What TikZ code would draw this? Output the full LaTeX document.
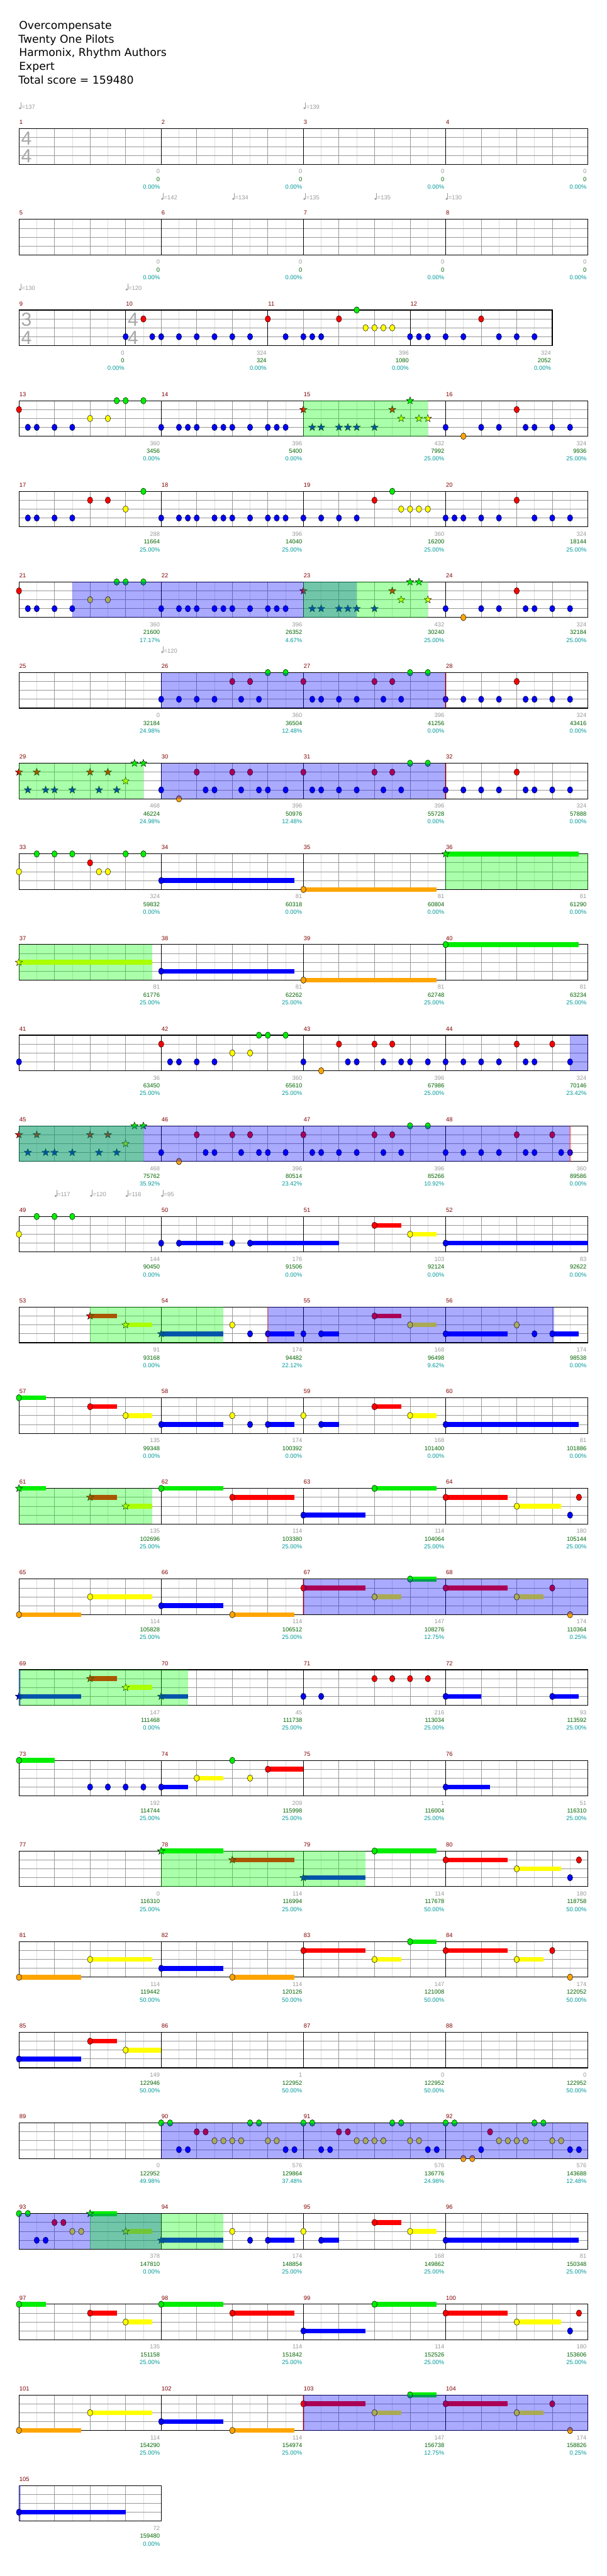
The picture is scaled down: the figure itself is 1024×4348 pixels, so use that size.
\documentclass[tikz,border=0pt]{standalone}
\usepackage{fontspec}
\setmainfont{DejaVu Sans}
\newfontfamily\labfont{Liberation Sans}
\definecolor{cG}{HTML}{00EE00}
\definecolor{cR}{HTML}{FF0000}
\definecolor{cY}{HTML}{FFFF00}
\definecolor{cB}{HTML}{0000FF}
\definecolor{cO}{HTML}{FFA500}
\definecolor{mnum}{HTML}{800000}
\definecolor{gnum}{HTML}{999999}
\definecolor{snum}{HTML}{006400}
\definecolor{pnum}{HTML}{009999}
\definecolor{halfc}{HTML}{DDDDDD}
\definecolor{beatc}{HTML}{999999}
\definecolor{tsg}{HTML}{A8A8A8}
\definecolor{odc}{HTML}{0000FF}
\definecolor{spc}{HTML}{00FF00}
\tikzset{lb/.style={font=\labfont\fontsize{10}{12}\selectfont,inner sep=0pt}}
\newcommand\setm[1]{%
  \pgfmathtruncatemacro\mR{(#1-1)/4}%
  \pgfmathtruncatemacro\mC{#1-1-4*\mR}%
  \pgfmathsetmacro\mX{32+240*\mC}%
  \ifnum#1=9 \def\mX{32}\fi
  \ifnum#1=10 \def\mX{212}\fi
  \ifnum#1=11 \def\mX{452}\fi
  \ifnum#1=12 \def\mX{692}\fi
  \pgfmathsetmacro\mY{217.3+153*\mR}}
\newcommand\nt[4]{\setm{#1}%
  \pgfmathsetmacro\px{\mX+60*(#2)}\pgfmathsetmacro\py{\mY+15*(#3)}%
  \filldraw[fill=#4,draw=black,line width=0.5pt] (\px,\py) ellipse [x radius=4.5pt,y radius=5.5pt];}
\newcommand\nts[4]{\foreach \b in {#4}{\nt{#1}{\b}{#2}{#3}}}
\newcommand\str[4]{\setm{#1}%
  \pgfmathsetmacro\px{\mX+60*(#2)}\pgfmathsetmacro\py{\mY+15*(#3)}%
  \filldraw[fill=#4,draw=black,line width=0.5pt] (\px,\py) +(270:6.5) -- +(306:2.7) -- +(342:6.5) -- +(18:2.7) -- +(54:6.5) -- +(90:2.7) -- +(126:6.5) -- +(162:2.7) -- +(198:6.5) -- +(234:2.7) -- cycle;}
\newcommand\sts[4]{\foreach \b in {#4}{\str{#1}{\b}{#2}{#3}}}
\newcommand\sus[5]{\setm{#1}%
  \pgfmathsetmacro\px{\mX+60*(#2)}\pgfmathsetmacro\py{\mY+15*(#3)}\pgfmathsetmacro\pe{\px+60*(#4)}%
  \fill[#5] (\px,\py-4) rectangle (\pe,\py+4);}
% sustained note / sustained star: m beat lane len colour
\newcommand\snt[5]{\sus{#1}{#2}{#3}{#4}{#5}\nt{#1}{#2}{#3}{#5}}
\newcommand\sst[5]{\sus{#1}{#2}{#3}{#4}{#5}\str{#1}{#2}{#3}{#5}}
\newcommand\reg[5]{%
  \setm{#3}\pgfmathsetmacro\xb{\mX+60*(#4)}%
  \setm{#1}\pgfmathsetmacro\xa{\mX+60*(#2)}%
  \fill[#5,opacity=0.333] (\xa,\mY) rectangle (\xb,\mY+60);}
\newcommand\pk[2]{\setm{#1}\pgfmathsetmacro\xa{\mX+60*(#2)}%
  \fill[red,opacity=0.3] (\xa-1,\mY) rectangle (\xa+1.5,\mY+60);}
\newcommand\grid[3]{%
  \pgfmathsetmacro\gy{217.3+153*#1}%
  \foreach \xx in {62,122,...,#2} \draw[halfc,line width=0.8pt] (\xx,\gy) -- (\xx,\gy+60);
  \foreach \xx in {92,152,...,#2} \draw[beatc,line width=0.8pt] (\xx,\gy) -- (\xx,\gy+60);
  \foreach \yy in {15,30,45} \draw[beatc,line width=1pt] (32,\gy+\yy) -- (#2,\gy+\yy);
  \foreach \xx in {#3} \draw[black,line width=0.8pt] (\xx,\gy) -- (\xx,\gy+60);
  \draw[black,line width=1.2pt] (32,\gy) rectangle (#2,\gy+60);}
\newcommand\tsig[4]{\pgfmathsetmacro\gy{217.3+153*#2}%
  \node[inner sep=0,text=tsg,font=\labfont\fontsize{32}{32}\selectfont] (ts#2a#3) at (#1,\gy+16.4) {#3};
  \node[inner sep=0,text=tsg,font=\labfont\fontsize{32}{32}\selectfont] (ts#2b#3) at (#1,\gy+46.4) {#4};}
\newcommand\lbl[4]{\setm{#1}%
  \pgfmathsetmacro\xe{\mX+238}\ifnum#1=9 \def\xe{210}\fi
  \node[lb,text=gnum,anchor=base east] (lg#1) at (\xe,\mY+75.4) {#2};
  \node[lb,text=snum,anchor=base east] (ls#1) at (\xe,\mY+88.7) {#3};
  \node[lb,text=pnum,anchor=base east] (lp#1) at (\xe,\mY+101.7) {#4};}
\newcommand\tmp[3]{\setm{#1}\pgfmathsetmacro\px{\mX+60*(#2)}%
  \fill[gnum] (\px+1.8,\mY-34.6) ellipse [x radius=2pt,y radius=1.7pt];
  \draw[gnum,line width=0.6pt] (\px+3.5,\mY-34.6) -- (\px+3.5,\mY-44.5);
  \node[lb,text=gnum,anchor=base west] (tp-#1-#3) at (\px+4.5,\mY-33.3) {=#3};}
\begin{document}
\begin{tikzpicture}[x=1pt,y=-1pt]
\useasboundingbox (0,0) rectangle (1024,4348);
\fill[white] (0,0) rectangle (1024,4348);
\node[anchor=base west,inner sep=0,font=\fontsize{18.3}{20}\selectfont] (h1) at (32,49.3) {Overcompensate};
\node[anchor=base west,inner sep=0,font=\fontsize{18.3}{20}\selectfont] (h2) at (31,72.4) {Twenty One Pilots};
\node[anchor=base west,inner sep=0,font=\fontsize{18.3}{20}\selectfont] (h3) at (32,95.5) {Harmonix, Rhythm Authors};
\node[anchor=base west,inner sep=0,font=\fontsize{18.3}{20}\selectfont] (h4) at (32,118.6) {Expert};
\node[anchor=base west,inner sep=0,font=\fontsize{18.3}{20}\selectfont] (h5) at (31,141.7) {Total score = 159480};
% grids
\foreach \r in {0,1,3,4,5,6,7,8,9,10,11,12,13,14,15,16,17,18,19,20,21,22,23,24,25} {\grid{\r}{992}{272,512,752}}
\grid{2}{932}{212,452,692}
\grid{26}{272}{32}
\tsig{44.7}{0}{4}{4}
\tsig{44.5}{2}{3}{4}
\tsig{224.5}{2}{4}{4}
\foreach \m in {1,...,105} {\setm{\m}\node[lb,text=mnum,anchor=base west] (mn\m) at (\mX+0.5,\mY-7.3) {\m};}
% tempos
\tmp{1}{0}{137}\tmp{3}{0}{139}
\tmp{6}{0}{142}\tmp{6}{2}{134}\tmp{7}{0}{135}\tmp{7}{2}{135}\tmp{8}{0}{130}
\tmp{9}{0}{130}\tmp{10}{0}{120}
\tmp{26}{0}{120}
\tmp{49}{1}{117}\tmp{49}{2}{120}\tmp{49}{3}{116}\tmp{50}{0}{95}
% rows 0,1
\foreach \m in {1,...,8} {\lbl{\m}{0}{0}{0.00\%}}
% row 2
\nts{10}{3}{cB}{0,0.75,1,1.5,2,2.5,3,3.5}\nts{10}{1}{cR}{0.5}
\nts{11}{1}{cR}{0,2}\nts{11}{3}{cB}{0.5,1,1.25,1.5}\nts{11}{0}{cG}{2.5}\nts{11}{2}{cY}{2.75,3,3.25,3.5}
\nts{12}{3}{cB}{0,0.25,0.5,1,1.5,2.5,3,3.5}\nts{12}{1}{cR}{2}
\lbl{9}{0}{0}{0.00\%}\lbl{10}{324}{324}{0.00\%}\lbl{11}{396}{1080}{0.00\%}\lbl{12}{324}{2052}{0.00\%}
% row 3
\nts{13}{1}{cR}{0}\nts{13}{3}{cB}{0.25,0.5,1,1.5}\nts{13}{2}{cY}{2,2.5}\nts{13}{0}{cG}{2.75,3,3.5}
\nts{14}{3}{cB}{0,0.5,0.75,1,1.5,1.75,2,2.5,3,3.25,3.5}
\sts{15}{1}{cR}{0,2.5}\sts{15}{3}{cB}{0.25,0.5,1,1.25,1.5,2}\sts{15}{2}{cY}{2.75,3.25,3.5}\sts{15}{0}{cG}{3}
\nts{16}{3}{cB}{0,1,1.5,2.25,2.5,3,3.5}\nts{16}{4}{cO}{0.5}\nts{16}{1}{cR}{2}
\reg{15}{0}{15}{3.5}{spc}
\lbl{13}{360}{3456}{0.00\%}\lbl{14}{396}{5400}{0.00\%}\lbl{15}{432}{7992}{25.00\%}\lbl{16}{324}{9936}{25.00\%}
% row 4
\nts{17}{3}{cB}{0.25,0.5,1,1.5}\nts{17}{1}{cR}{2,2.5}\nts{17}{2}{cY}{3}\nts{17}{0}{cG}{3.5}
\nts{18}{3}{cB}{0,0.5,0.75,1,1.5,1.75,2,2.5,3,3.25,3.5}
\nts{19}{3}{cB}{0,0.5,1,1.5}\nts{19}{1}{cR}{2}\nts{19}{0}{cG}{2.5}\nts{19}{2}{cY}{2.75,3,3.25,3.5}
\nts{20}{3}{cB}{0,0.25,0.5,1,1.5,2.5,3,3.5}\nts{20}{1}{cR}{2}
\lbl{17}{288}{11664}{25.00\%}\lbl{18}{396}{14040}{25.00\%}\lbl{19}{360}{16200}{25.00\%}\lbl{20}{324}{18144}{25.00\%}
% row 5
\nts{21}{1}{cR}{0}\nts{21}{3}{cB}{0.25,0.5,1,1.5}\nts{21}{2}{cY}{2,2.5}\nts{21}{0}{cG}{2.75,3,3.5}
\nts{22}{3}{cB}{0,0.5,0.75,1,1.5,1.75,2,2.5,3,3.25,3.5}
\sts{23}{1}{cR}{0,2.5}\sts{23}{3}{cB}{0.25,0.5,1,1.25,1.5,2}\sts{23}{2}{cY}{2.75,3.5}\sts{23}{0}{cG}{3,3.25}
\nts{24}{3}{cB}{0,1,1.5,2.25,2.5,3,3.5}\nts{24}{4}{cO}{0.5}\nts{24}{1}{cR}{2}
\reg{21}{1.5}{23}{1.5}{odc}\reg{23}{0}{23}{3.5}{spc}
\lbl{21}{360}{21600}{17.17\%}\lbl{22}{396}{26352}{4.67\%}\lbl{23}{432}{30240}{25.00\%}\lbl{24}{324}{32184}{25.00\%}
% row 6
\nts{26}{3}{cB}{0,0.5,1,1.5,2.25,2.75}\nts{26}{1}{cR}{2,2.5}\nts{26}{0}{cG}{3,3.5}
\nts{27}{1}{cR}{0,2,2.5}\nts{27}{3}{cB}{0.25,0.5,1,1.5,2.25,2.75}\nts{27}{0}{cG}{3,3.5}
\nts{28}{3}{cB}{0,0.5,1,1.5,2.25,2.5,3,3.5}\nts{28}{1}{cR}{2}
\reg{26}{0}{28}{0}{odc}\pk{28}{0}
\lbl{25}{0}{32184}{24.98\%}\lbl{26}{360}{36504}{12.48\%}\lbl{27}{396}{41256}{0.00\%}\lbl{28}{324}{43416}{0.00\%}
% row 7
\sts{29}{1}{cR}{0,0.5,2,2.5}\sts{29}{3}{cB}{0.25,0.75,1,1.5,2.25,2.75}\sts{29}{2}{cY}{3}\sts{29}{0}{cG}{3.25,3.5}
\nts{30}{3}{cB}{0,1.25,1.5,2.25,2.75,3,3.5}\nts{30}{4}{cO}{0.5}\nts{30}{1}{cR}{1,2,2.5}
\nts{31}{1}{cR}{0,2,2.5}\nts{31}{3}{cB}{0.25,0.5,1,1.5,2.25,2.75}\nts{31}{0}{cG}{3,3.5}
\nts{32}{3}{cB}{0,0.5,1,1.5,2.25,2.5,3,3.5}\nts{32}{1}{cR}{2}
\reg{29}{0}{29}{3.5}{spc}\reg{30}{0}{32}{0}{odc}\pk{32}{0}
\lbl{29}{468}{46224}{24.98\%}\lbl{30}{396}{50976}{12.48\%}\lbl{31}{396}{55728}{0.00\%}\lbl{32}{324}{57888}{0.00\%}
% row 8
\nts{33}{2}{cY}{0,2.25,2.5}\nts{33}{0}{cG}{0.5,1,1.5,3,3.5}\nts{33}{1}{cR}{2}
\snt{34}{0}{3}{3.75}{cB}\snt{35}{0}{4}{3.75}{cO}\sst{36}{0}{0}{3.75}{cG}
\reg{36}{0}{36}{4}{spc}
\lbl{33}{324}{59832}{0.00\%}\lbl{34}{81}{60318}{0.00\%}\lbl{35}{81}{60804}{0.00\%}\lbl{36}{81}{61290}{0.00\%}
% row 9
\sst{37}{0}{2}{3.75}{cY}\snt{38}{0}{3}{3.75}{cB}\snt{39}{0}{4}{3.75}{cO}\snt{40}{0}{0}{3.75}{cG}
\reg{37}{0}{37}{3.75}{spc}
\lbl{37}{81}{61776}{25.00\%}\lbl{38}{81}{62262}{25.00\%}\lbl{39}{81}{62748}{25.00\%}\lbl{40}{81}{63234}{25.00\%}
% row 10
\nts{41}{3}{cB}{0}
\nts{42}{1}{cR}{0}\nts{42}{3}{cB}{0.25,0.5,1,1.5}\nts{42}{2}{cY}{2,2.5}\nts{42}{0}{cG}{2.75,3,3.5}
\nts{43}{3}{cB}{0,1.25,1.5,2.25,2.75,3,3.5}\nts{43}{4}{cO}{0.5}\nts{43}{1}{cR}{1,2,2.5}
\nts{44}{3}{cB}{0,0.5,1,1.5,2.25,2.5,3.5}\nts{44}{1}{cR}{2,3}
\reg{44}{3.5}{44}{4}{odc}
\lbl{41}{36}{63450}{25.00\%}\lbl{42}{360}{65610}{25.00\%}\lbl{43}{396}{67986}{25.00\%}\lbl{44}{324}{70146}{23.42\%}
% row 11
\sts{45}{1}{cR}{0,0.5,2,2.5}\sts{45}{3}{cB}{0.25,0.75,1,1.5,2.25,2.75}\sts{45}{2}{cY}{3}\sts{45}{0}{cG}{3.25,3.5}
\nts{46}{3}{cB}{0,1.25,1.5,2.25,2.75,3,3.5}\nts{46}{4}{cO}{0.5}\nts{46}{1}{cR}{1,2,2.5}
\nts{47}{1}{cR}{0,2,2.5}\nts{47}{3}{cB}{0.25,0.5,1,1.5,2.25,2.75}\nts{47}{0}{cG}{3,3.5}
\nts{48}{3}{cB}{0,0.5,1,1.5,2.25,2.5,3.25,3.5}\nts{48}{1}{cR}{2,3}
\reg{45}{0}{48}{3.5}{odc}\reg{45}{0}{45}{3.5}{spc}\pk{48}{3.5}
\lbl{45}{468}{75762}{35.92\%}\lbl{46}{396}{80514}{23.42\%}\lbl{47}{396}{85266}{10.92\%}\lbl{48}{360}{89586}{0.00\%}
% row 12
\nts{49}{2}{cY}{0}\nts{49}{0}{cG}{0.5,1,1.5}
\nt{50}{0}{3}{cB}\snt{50}{0.5}{3}{1.25}{cB}\nt{50}{2}{3}{cB}\snt{50}{2.5}{3}{2.5}{cB}
\snt{51}{2}{1}{0.75}{cR}\snt{51}{3}{2}{0.75}{cY}
\snt{52}{0}{3}{4}{cB}
\lbl{49}{144}{90450}{0.00\%}\lbl{50}{176}{91506}{0.00\%}\lbl{51}{103}{92124}{0.00\%}\lbl{52}{83}{92622}{0.00\%}
% row 13
\sst{53}{2}{1}{0.75}{cR}\sst{53}{3}{2}{0.75}{cY}\sst{54}{0}{3}{1.75}{cB}
\nt{54}{2}{2}{cY}\nt{54}{2.5}{3}{cB}\snt{54}{3}{3}{0.75}{cB}
\nt{55}{0}{3}{cB}\snt{55}{0.5}{3}{0.5}{cB}\snt{55}{2}{1}{0.75}{cR}\snt{55}{3}{2}{0.75}{cY}
\snt{56}{0}{3}{1.75}{cB}\nt{56}{2}{2}{cY}\nt{56}{2.5}{3}{cB}\snt{56}{3}{3}{0.75}{cB}
\reg{53}{2}{54}{1.75}{spc}\reg{54}{3}{56}{3.05}{odc}\pk{54}{3}
\lbl{53}{91}{93168}{0.00\%}\lbl{54}{174}{94482}{22.12\%}\lbl{55}{168}{96498}{9.62\%}\lbl{56}{174}{98538}{0.00\%}
% row 14
\snt{57}{0}{0}{0.75}{cG}\snt{57}{2}{1}{0.75}{cR}\snt{57}{3}{2}{0.75}{cY}
\snt{58}{0}{3}{1.75}{cB}\nt{58}{2}{2}{cY}\nt{58}{2.5}{3}{cB}\snt{58}{3}{3}{0.75}{cB}
\nt{59}{0}{2}{cY}\snt{59}{0.5}{3}{0.5}{cB}\snt{59}{2}{1}{0.75}{cR}\snt{59}{3}{2}{0.75}{cY}
\snt{60}{0}{3}{3.75}{cB}
\lbl{57}{135}{99348}{0.00\%}\lbl{58}{174}{100392}{0.00\%}\lbl{59}{168}{101400}{0.00\%}\lbl{60}{81}{101886}{0.00\%}
% row 15
\sst{61}{0}{0}{0.75}{cG}\sst{61}{2}{1}{0.75}{cR}\sst{61}{3}{2}{0.75}{cY}
\snt{62}{0}{0}{1.75}{cG}\snt{62}{2}{1}{1.75}{cR}
\snt{63}{0}{3}{1.75}{cB}\snt{63}{2}{0}{1.75}{cG}
\snt{64}{0}{1}{1.75}{cR}\snt{64}{2}{2}{1.25}{cY}\nt{64}{3.5}{3}{cB}\nt{64}{3.75}{1}{cR}
\reg{61}{0}{61}{3.75}{spc}
\lbl{61}{135}{102696}{25.00\%}\lbl{62}{114}{103380}{25.00\%}\lbl{63}{114}{104064}{25.00\%}\lbl{64}{180}{105144}{25.00\%}
% row 16
\snt{65}{0}{4}{1.75}{cO}\snt{65}{2}{2}{1.75}{cY}
\snt{66}{0}{3}{1.75}{cB}\snt{66}{2}{4}{1.75}{cO}
\snt{67}{0}{1}{1.75}{cR}\snt{67}{2}{2}{0.75}{cY}\snt{67}{3}{0}{0.75}{cG}
\snt{68}{0}{1}{1.75}{cR}\snt{68}{2}{2}{0.75}{cY}\nt{68}{3}{1}{cR}\nt{68}{3.5}{4}{cO}
\reg{67}{0}{68}{4}{odc}\pk{67}{0}
\lbl{65}{114}{105828}{25.00\%}\lbl{66}{114}{106512}{25.00\%}\lbl{67}{147}{108276}{12.75\%}\lbl{68}{174}{110364}{0.25\%}
% row 17
\sst{69}{0}{3}{1.75}{cB}\sst{69}{2}{1}{0.75}{cR}\sst{69}{3}{2}{0.75}{cY}
\sst{70}{0}{3}{0.75}{cB}
\nts{71}{3}{cB}{0,0.5}\nts{71}{1}{cR}{2,2.5,3,3.5}
\snt{72}{0}{3}{1}{cB}\snt{72}{3}{3}{0.75}{cB}
\reg{69}{0}{70}{0.75}{spc}\reg{69}{0}{69}{0.05}{odc}
\lbl{69}{147}{111468}{0.00\%}\lbl{70}{45}{111738}{25.00\%}\lbl{71}{216}{113034}{25.00\%}\lbl{72}{93}{113592}{25.00\%}
% row 18
\snt{73}{0}{0}{1}{cG}\nts{73}{3}{cB}{2,2.5,3,3.5}
\snt{74}{0}{3}{0.75}{cB}\snt{74}{1}{2}{0.75}{cY}\nt{74}{2}{0}{cG}\nt{74}{2.5}{2}{cY}\snt{74}{3}{1}{1}{cR}
\snt{76}{0}{3}{1.25}{cB}
\lbl{73}{192}{114744}{25.00\%}\lbl{74}{209}{115998}{25.00\%}\lbl{75}{1}{116004}{25.00\%}\lbl{76}{51}{116310}{25.00\%}
% row 19
\sst{78}{0}{0}{1.75}{cG}\sst{78}{2}{1}{1.75}{cR}
\sst{79}{0}{3}{1.75}{cB}\snt{79}{2}{0}{1.75}{cG}
\snt{80}{0}{1}{1.75}{cR}\snt{80}{2}{2}{1.25}{cY}\nt{80}{3.5}{3}{cB}\nt{80}{3.75}{1}{cR}
\reg{78}{0}{79}{1.75}{spc}
\lbl{77}{0}{116310}{25.00\%}\lbl{78}{114}{116994}{25.00\%}\lbl{79}{114}{117678}{50.00\%}\lbl{80}{180}{118758}{50.00\%}
% row 20
\snt{81}{0}{4}{1.75}{cO}\snt{81}{2}{2}{1.75}{cY}
\snt{82}{0}{3}{1.75}{cB}\snt{82}{2}{4}{1.75}{cO}
\snt{83}{0}{1}{1.75}{cR}\snt{83}{2}{2}{0.75}{cY}\snt{83}{3}{0}{0.75}{cG}
\snt{84}{0}{1}{1.75}{cR}\snt{84}{2}{2}{0.75}{cY}\nt{84}{3}{1}{cR}\nt{84}{3.5}{4}{cO}
\lbl{81}{114}{119442}{50.00\%}\lbl{82}{114}{120126}{50.00\%}\lbl{83}{147}{121008}{50.00\%}\lbl{84}{174}{122052}{50.00\%}
% row 21
\snt{85}{0}{3}{1.75}{cB}\snt{85}{2}{1}{0.75}{cR}\snt{85}{3}{2}{1}{cY}
\lbl{85}{149}{122946}{50.00\%}\lbl{86}{1}{122952}{50.00\%}\lbl{87}{0}{122952}{50.00\%}\lbl{88}{0}{122952}{50.00\%}
% row 22
\nts{90}{0}{cG}{0,0.25,2.5,2.75}\nts{90}{3}{cB}{0.5,0.75,3.5,3.75}\nts{90}{1}{cR}{1,1.25}\nts{90}{2}{cY}{1.5,1.75,2,2.25,3,3.25}
\nts{91}{0}{cG}{0,0.25,2.5,2.75}\nts{91}{3}{cB}{0.5,0.75,3.5,3.75}\nts{91}{1}{cR}{1,1.25}\nts{91}{2}{cY}{1.5,1.75,2,2.25,3,3.25}
\nts{92}{0}{cG}{0,0.25,2.5,2.75}\nts{92}{4}{cO}{0.5,0.75}\nts{92}{3}{cB}{1,3.5,3.75}\nts{92}{1}{cR}{1.25}\nts{92}{2}{cY}{1.5,1.75,2,2.25,3,3.25}
\reg{90}{0}{92}{4}{odc}
\lbl{89}{0}{122952}{49.98\%}\lbl{90}{576}{129864}{37.48\%}\lbl{91}{576}{136776}{24.98\%}\lbl{92}{576}{143688}{12.48\%}
% row 23
\nts{93}{0}{cG}{0,0.25}\nts{93}{3}{cB}{0.5,0.75}\nts{93}{1}{cR}{1,1.25}\nts{93}{2}{cY}{1.5,1.75}
\sst{93}{2}{0}{0.75}{cG}\sst{93}{3}{2}{0.75}{cY}
\sst{94}{0}{3}{1.75}{cB}\nt{94}{2}{2}{cY}\nt{94}{2.5}{3}{cB}\snt{94}{3}{3}{0.75}{cB}
\nt{95}{0}{2}{cY}\snt{95}{0.5}{3}{0.5}{cB}\snt{95}{2}{1}{0.75}{cR}\snt{95}{3}{2}{0.75}{cY}
\snt{96}{0}{3}{3.75}{cB}
\reg{93}{0}{94}{0}{odc}\reg{93}{2}{94}{1.75}{spc}
\lbl{93}{378}{147810}{0.00\%}\lbl{94}{174}{148854}{25.00\%}\lbl{95}{168}{149862}{25.00\%}\lbl{96}{81}{150348}{25.00\%}
% row 24
\snt{97}{0}{0}{0.75}{cG}\snt{97}{2}{1}{0.75}{cR}\snt{97}{3}{2}{0.75}{cY}
\snt{98}{0}{0}{1.75}{cG}\snt{98}{2}{1}{1.75}{cR}
\snt{99}{0}{3}{1.75}{cB}\snt{99}{2}{0}{1.75}{cG}
\snt{100}{0}{1}{1.75}{cR}\snt{100}{2}{2}{1.25}{cY}\nt{100}{3.5}{3}{cB}\nt{100}{3.75}{1}{cR}
\lbl{97}{135}{151158}{25.00\%}\lbl{98}{114}{151842}{25.00\%}\lbl{99}{114}{152526}{25.00\%}\lbl{100}{180}{153606}{25.00\%}
% row 25
\snt{101}{0}{4}{1.75}{cO}\snt{101}{2}{2}{1.75}{cY}
\snt{102}{0}{3}{1.75}{cB}\snt{102}{2}{4}{1.75}{cO}
\snt{103}{0}{1}{1.75}{cR}\snt{103}{2}{2}{0.75}{cY}\snt{103}{3}{0}{0.75}{cG}
\snt{104}{0}{1}{1.75}{cR}\snt{104}{2}{2}{0.75}{cY}\nt{104}{3}{1}{cR}\nt{104}{3.5}{4}{cO}
\reg{103}{0}{104}{4}{odc}\pk{103}{0}
\lbl{101}{114}{154290}{25.00\%}\lbl{102}{114}{154974}{25.00\%}\lbl{103}{147}{156738}{12.75\%}\lbl{104}{174}{158826}{0.25\%}
% row 26
\snt{105}{0}{3}{3}{cB}
\reg{105}{0}{105}{0.05}{odc}
\lbl{105}{72}{159480}{0.00\%}
\end{tikzpicture}
\end{document}
